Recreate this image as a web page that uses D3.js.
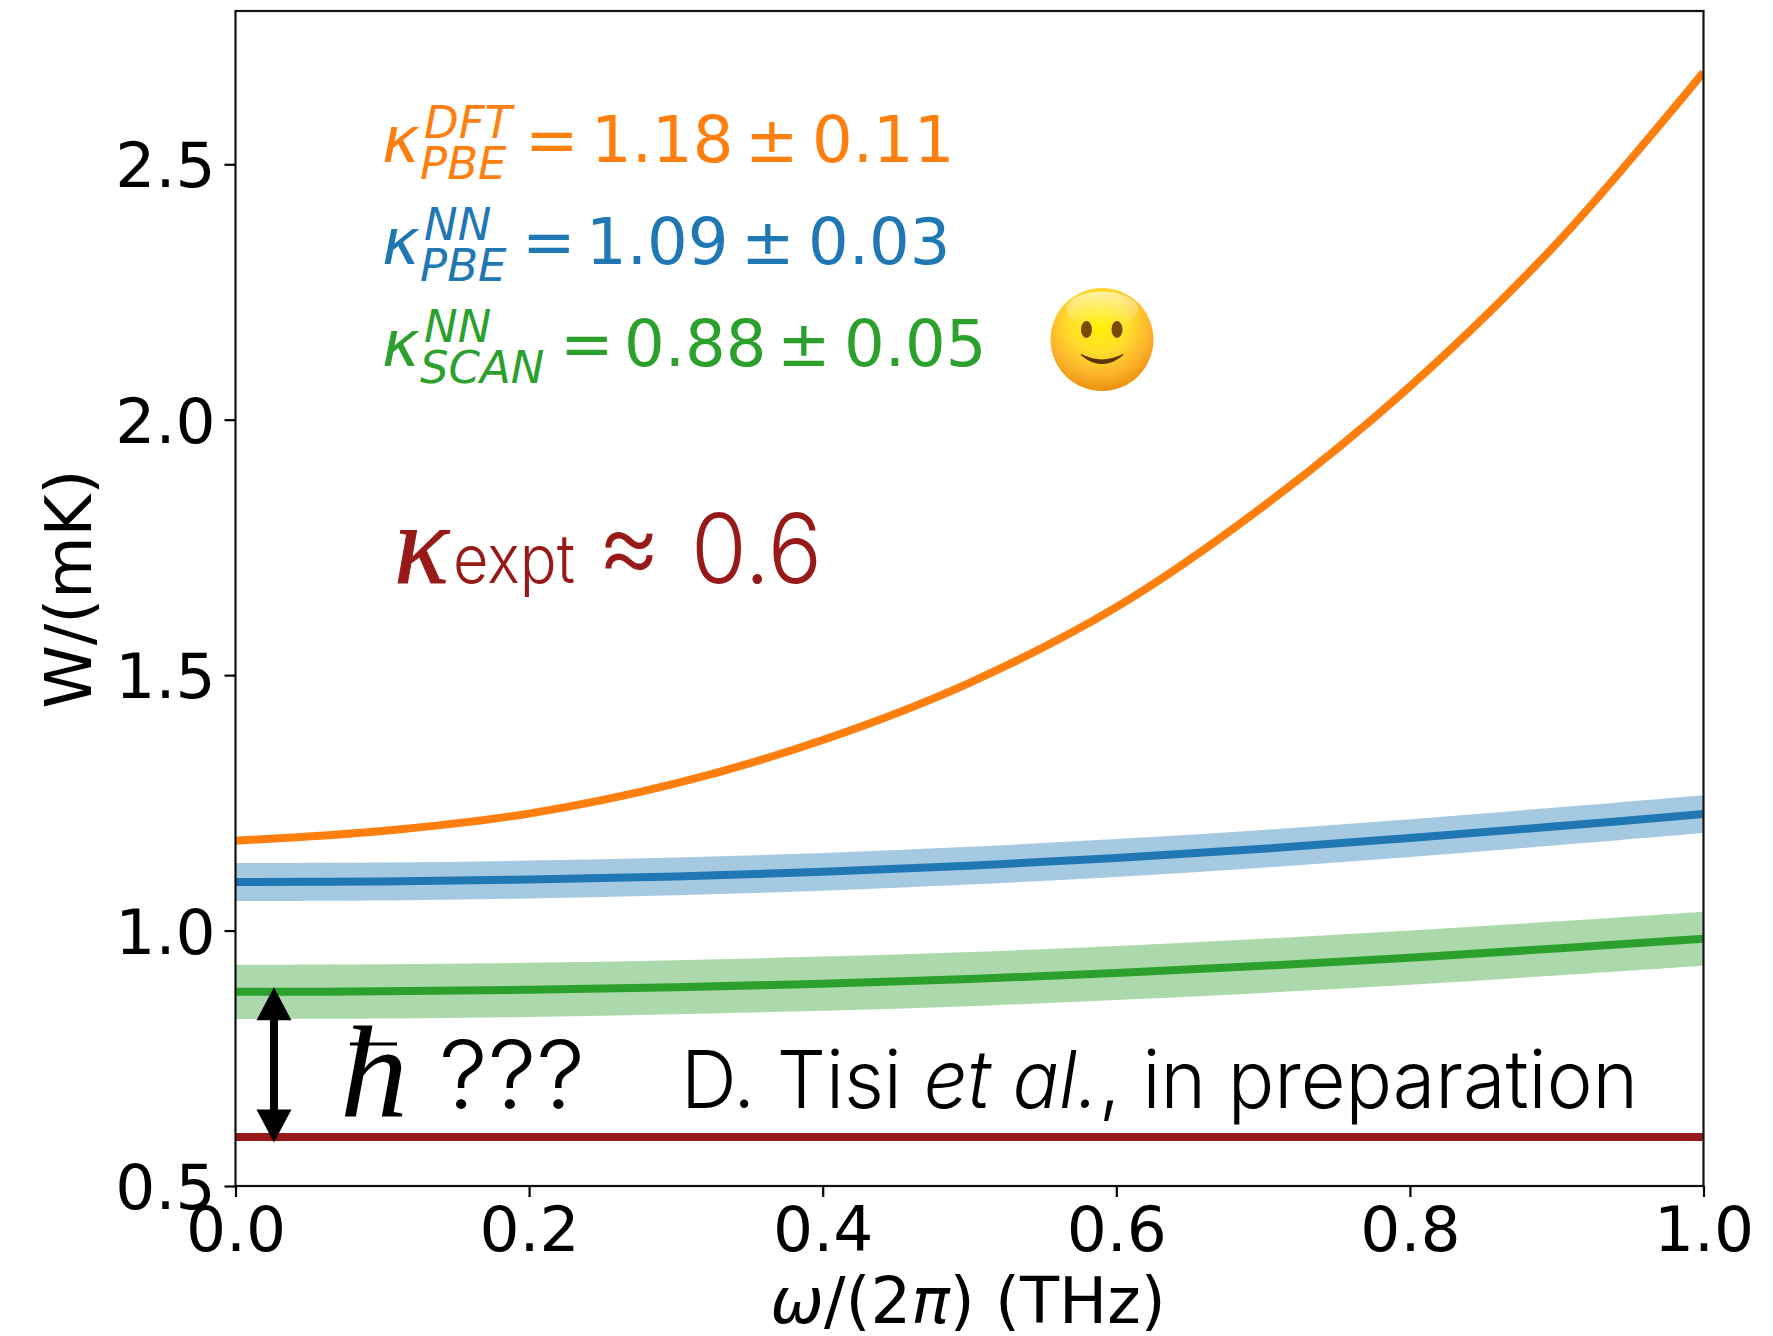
<!DOCTYPE html>
<html><head><meta charset="utf-8">
<script src="https://cdn.jsdelivr.net/npm/d3@7"></script>
<style>html,body{margin:0;padding:0;background:#fff}svg{display:block}</style></head>
<body><svg id="c" width="1773" height="1336"></svg>
<script>
const xTicks=[0,0.2,0.4,0.6,0.8,1.0];
const yTicks=[0.5,1.0,1.5,2.0,2.5];
const gridX=[0,0.1,0.2,0.3,0.4,0.5,0.6,0.7,0.8,0.9,1.0];
const orangeY=[1.176,1.195,1.229,1.288,1.373,1.485,1.633,1.830,2.065,2.345,2.680];
const blueMean=[1.095,1.096,1.100,1.106,1.115,1.127,1.142,1.160,1.181,1.204,1.228];
const blueLow=[1.058,1.059,1.063,1.069,1.078,1.090,1.105,1.123,1.144,1.167,1.191];
const blueHigh=[1.132,1.133,1.137,1.143,1.152,1.164,1.179,1.197,1.218,1.241,1.265];
const greenMean=[0.880,0.881,0.884,0.889,0.896,0.905,0.917,0.931,0.947,0.965,0.984];
const greenLow=[0.827,0.828,0.831,0.836,0.843,0.852,0.864,0.878,0.894,0.912,0.931];
const greenHigh=[0.933,0.934,0.937,0.942,0.949,0.958,0.970,0.984,1.000,1.018,1.037];
const exptX=[0,1];
const exptY=[0.596,0.596];
const arrowX=[0.0262];
const arrowY=[0.585,0.889];

const svg=d3.select('#c');
const L=235.5,R=1703.5,T=11,B=1186;
const x=d3.scaleLinear().domain([0,1]).range([L,R]);
const y=d3.scaleLinear().domain([0.5,2.8]).range([B,T]);
const C={o:'#ff7f0e',b:'#1f77b4',g:'#2ca02c',r:'#971a18'};
const dv='"DejaVu Sans"', hv='Inter, "Liberation Sans", sans-serif';

const defs=svg.append('defs');
const rg=defs.append('radialGradient').attr('id','face').attr('cx','0.47').attr('cy','0.34').attr('r','0.7');
[[0,'#fff200'],[0.4,'#ffdf2a'],[0.72,'#fdb32c'],[0.92,'#ec9510'],[1,'#c47308']].forEach(d=>rg.append('stop').attr('offset',d[0]).attr('stop-color',d[1]));
const hg=defs.append('linearGradient').attr('id','shine').attr('x1',0).attr('y1',0).attr('x2',0).attr('y2',1);
[[0,'#ffffff',0.55],[1,'#ffffff',0]].forEach(d=>hg.append('stop').attr('offset',d[0]).attr('stop-color',d[1]).attr('stop-opacity',d[2]));

defs.append('clipPath').attr('id','plot').append('rect').attr('x',L).attr('y',T).attr('width',R-L).attr('height',B-T);
const g=svg.append('g').attr('clip-path','url(#plot)');

const line=(xs,ys)=>d3.line().curve(d3.curveCatmullRom.alpha(0.5)).x((d,i)=>x(xs[i])).y(d=>y(d))(ys);
const area=(xs,lo,hi)=>d3.area().curve(d3.curveCatmullRom.alpha(0.5)).x((d,i)=>x(xs[i])).y0((d,i)=>y(lo[i])).y1((d,i)=>y(hi[i]))(xs);

g.append('path').attr('d',area(gridX,blueLow,blueHigh)).attr('fill',C.b).attr('fill-opacity',0.4);
g.append('path').attr('d',area(gridX,greenLow,greenHigh)).attr('fill',C.g).attr('fill-opacity',0.4);
g.append('path').attr('d',line(gridX,orangeY)).attr('fill','none').attr('stroke',C.o).attr('stroke-width',8);
g.append('path').attr('d',line(gridX,blueMean)).attr('fill','none').attr('stroke',C.b).attr('stroke-width',8);
g.append('path').attr('d',line(gridX,greenMean)).attr('fill','none').attr('stroke',C.g).attr('stroke-width',8);
g.append('path').attr('d',d3.line().x((d,i)=>x(exptX[i])).y(d=>y(d))(exptY)).attr('fill','none').attr('stroke',C.r).attr('stroke-width',8);

// frame and axes
svg.append('rect').attr('x',L).attr('y',T).attr('width',R-L).attr('height',B-T).attr('fill','none').attr('stroke','#111').attr('stroke-width',2.2);
const ax=svg.append('g').attr('transform',`translate(0,${B})`).call(d3.axisBottom(x).tickValues(xTicks).tickFormat(d3.format('.1f')).tickSize(11).tickSizeOuter(0));
const ay=svg.append('g').attr('transform',`translate(${L},0)`).call(d3.axisLeft(y).tickValues(yTicks).tickFormat(d3.format('.1f')).tickSize(11).tickSizeOuter(0));
[ax,ay].forEach(a=>{a.select('.domain').remove();a.selectAll('line').attr('stroke','#000').attr('stroke-width',2.2);
  a.selectAll('text').attr('fill','#000').style('font-family',dv).style('font-size','63px');});
ax.selectAll('text').attr('y',65).attr('dy',0);
ay.selectAll('text').attr('x',-20).attr('dy','0.36em');

// arrow
const ah=33, aw=17.5, ax0=x(arrowX[0]), ya=y(arrowY[0]), yb=y(arrowY[1]);
const p=d3.path();
p.moveTo(ax0,yb);p.lineTo(ax0+aw,yb+ah);p.lineTo(ax0+4,yb+ah);p.lineTo(ax0+4,ya-ah);p.lineTo(ax0+aw,ya-ah);p.lineTo(ax0,ya);
p.lineTo(ax0-aw,ya-ah);p.lineTo(ax0-4,ya-ah);p.lineTo(ax0-4,yb+ah);p.lineTo(ax0-aw,yb+ah);p.closePath();
svg.append('path').attr('fill','#000').attr('d',p.toString());

function T_(s,px,py,size,color,opts={}){
  const t=svg.append('text').attr('x',px).attr('y',py).text(s).attr('fill',color)
    .style('font-family',opts.font||dv).style('font-size',size+'px');
  if(opts.italic)t.style('font-style','italic');
  if(opts.weight)t.style('font-weight',opts.weight);
  if(opts.len)t.attr('textLength',opts.len).attr('lengthAdjust','spacingAndGlyphs');
  return t;
}
// kappa annotations
const rows=[
 {c:C.o,sup:'DFT',sub:'PBE',base:162,eq:530,a:'1.18',ax:591,pm:751,b:'0.11',bx:812},
 {c:C.b,sup:'NN',sub:'PBE',base:264,eq:527,a:'1.09',ax:586,pm:747,b:'0.03',bx:808},
 {c:C.g,sup:'NN',sub:'SCAN',base:366,eq:565,a:'0.88',ax:624,pm:783,b:'0.05',bx:844}
];
rows.forEach(r=>{
  T_('κ',382,r.base,64,r.c,{italic:true});
  T_(r.sup,424,r.base-24,45,r.c,{italic:true});
  T_(r.sub,420,r.base+17,45,r.c,{italic:true});
  T_('=',r.eq-5,r.base,64,r.c);
  T_(r.a,r.ax,r.base,64,r.c);
  T_('±',r.pm-6,r.base,64,r.c);
  T_(r.b,r.bx,r.base,64,r.c);
});

// smiley
const s=svg.append('g').attr('transform','translate(1102,339.5)');
s.append('circle').attr('r',51.5).attr('fill','url(#face)');
s.append('ellipse').attr('cy',-30).attr('rx',36).attr('ry',18).attr('fill','url(#shine)');
[-15.5,15].forEach(e=>s.append('ellipse').attr('cx',e).attr('cy',-10).attr('rx',5.5).attr('ry',8.5).attr('fill','#7a4a05'));
s.append('path').attr('d','M-21,15 Q0,33 21,15 Q0,26 -21,15Z').attr('fill','#5c3500').attr('stroke','#5c3500').attr('stroke-width',1.2);

// experimental value
T_('κ',394,583,114,C.r,{font:'"Liberation Serif"',italic:true}).attr('stroke',C.r).attr('stroke-width',1);
T_('expt',453,583,68,C.r,{font:hv,weight:300,len:122});
T_('≈',597,581,105,C.r,{font:hv,weight:300,len:64});
T_('0.6',691,583,96,C.r,{font:hv,weight:300,len:131});

// hbar and note
T_('h',340,1117,132,'#000',{font:'"Liberation Serif"',italic:true,len:68});
svg.append('rect').attr('x',350).attr('y',1042.5).attr('width',47).attr('height',3).attr('fill','#000');
T_('???',439,1108,94,'#000',{font:hv,weight:300,len:146});
const note=svg.append('text').attr('x',681).attr('y',1108).attr('fill','#000').style('font-family',hv).style('font-weight',300).style('font-size','80px')
  .attr('textLength',957).attr('lengthAdjust','spacingAndGlyphs');
note.append('tspan').text('D. Tisi ');
note.append('tspan').style('font-style','italic').text('et al.');
note.append('tspan').text(', in preparation');

// axis titles
svg.append('text').attr('transform','translate(91,589) rotate(-90)').attr('text-anchor','middle').text('W/(mK)')
  .attr('fill','#000').style('font-family',dv).style('font-size','64px');
const xl=svg.append('text').attr('x',968).attr('y',1323).attr('text-anchor','middle').attr('fill','#000').style('font-family',dv).style('font-size','64px');
xl.append('tspan').style('font-style','italic').text('ω');
xl.append('tspan').text('/(2');
xl.append('tspan').style('font-style','italic').text('π');
xl.append('tspan').text(') (THz)');
</script></body></html>
